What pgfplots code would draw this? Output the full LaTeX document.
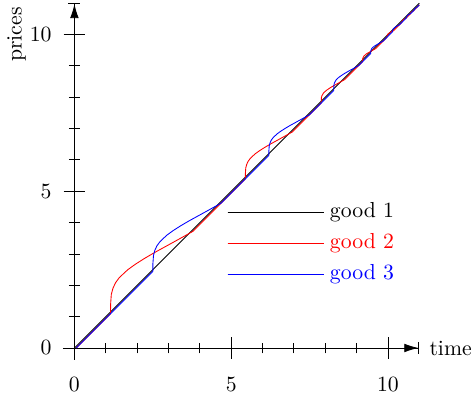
\documentclass[border=0pt]{standalone}
\usepackage{pgfplots}
\pgfplotsset{compat=1.18}
\usetikzlibrary{arrows.meta}

\begin{document}
\begin{tikzpicture}
\begin{axis}[
  x=0.507cm, y=0.507cm,
  axis lines=middle,
  xmin=-0.37, xmax=11, ymin=-0.37, ymax=11,
  axis line style={-{Latex[length=6.5pt,width=4pt]Bar[width=5.5pt]}},
  xtick={0,5,10}, ytick={0,5,10},
  minor xtick={1,2,3,4,6,7,8,9},
  minor ytick={1,2,3,4,6,7,8,9},
  tick align=center,
  major tick length=10pt,
  minor tick length=5pt,
  tick style={black, thin},
  hide obscured x ticks=false,
  hide obscured y ticks=false,
  xticklabel style={anchor=north, yshift=-5pt},
  yticklabel style={anchor=east, xshift=-2pt},
  xlabel={time}, ylabel={prices},
  xlabel style={at={(axis description cs:1,0.0325)}, anchor=west, inner sep=1.5pt, xshift=3pt},
  ylabel style={at={(axis description cs:-0.13,0.912)}, rotate=90, anchor=center},
  clip=false,
  legend style={draw=none, fill=none, at={(axis cs:4.65,4.92)}, anchor=north west,
    row sep=1.8pt, nodes={inner xsep=2.4pt}},
  legend cell align=left,
  legend image code/.code={\draw[#1] (0pt,0pt) -- (43pt,0pt); \path (0pt,0pt) -- (44.5pt,0pt);},
]
% good 1
\addplot[black, thin] coordinates {(0,0) (11,11)};
\addlegendentry{good 1}

% good 2
\addplot[red, thin] coordinates {
  (0.06,0)
  (1.150,1.090) (1.155,1.406) (1.176,1.708) (1.229,1.905) (1.308,2.076)
  (1.413,2.221) (1.545,2.352) (1.702,2.497) (1.939,2.668) (2.228,2.852)
  (2.518,3.023) (2.781,3.168) (3.044,3.312) (3.307,3.457) (3.543,3.589)
  (3.780,3.720)
  (5.450,5.390) (5.453,5.570) (5.465,5.743) (5.495,5.855) (5.540,5.953)
  (5.600,6.035) (5.675,6.110) (5.765,6.193) (5.900,6.290) (6.065,6.395)
  (6.230,6.493) (6.380,6.575) (6.530,6.658) (6.680,6.740) (6.815,6.815)
  (6.950,6.890)
  (7.870,7.810) (7.878,7.986) (7.893,8.043) (7.945,8.133) (8.028,8.211)
  (8.178,8.313) (8.335,8.403) (8.485,8.485) (8.620,8.560)
  (9.190,9.130) (9.194,9.229) (9.232,9.311) (9.316,9.382) (9.450,9.462)
  (9.610,9.550)
  (9.970,9.910) (9.972,9.962) (9.992,10.005) (10.036,10.042) (10.106,10.084)
  (10.190,10.130)
  (10.450,10.390) (10.451,10.421) (10.489,10.468) (10.580,10.520)
  (10.720,10.660) (10.721,10.679) (10.744,10.708) (10.800,10.740)
  (11,10.94)
};
\addlegendentry{\textcolor{red}{good 2}}

% good 3
\addplot[blue, thin] coordinates {
  (0.06,0)
  (2.500,2.440) (2.504,2.702) (2.522,2.952) (2.565,3.116) (2.631,3.258)
  (2.718,3.377) (2.827,3.486) (2.958,3.606) (3.154,3.748) (3.394,3.901)
  (3.634,4.042) (3.852,4.162) (4.070,4.282) (4.288,4.402) (4.484,4.511)
  (4.680,4.620)
  (6.200,6.140) (6.203,6.296) (6.213,6.446) (6.239,6.543) (6.278,6.628)
  (6.330,6.699) (6.395,6.764) (6.473,6.836) (6.590,6.920) (6.733,7.011)
  (6.876,7.096) (7.006,7.167) (7.136,7.239) (7.266,7.310) (7.383,7.375)
  (7.500,7.440)
  (8.270,8.210) (8.278,8.398) (8.294,8.458) (8.350,8.554) (8.438,8.638)
  (8.598,8.746) (8.766,8.842) (8.926,8.930) (9.070,9.010)
  (9.450,9.390) (9.454,9.484) (9.490,9.562) (9.570,9.630) (9.698,9.706)
  (9.850,9.790)
  (10.150,10.090) (10.152,10.142) (10.172,10.185) (10.216,10.222) (10.286,10.264)
  (10.370,10.310)
  (10.600,10.540) (10.601,10.571) (10.639,10.618) (10.730,10.670)
  (10.850,10.790) (10.851,10.806) (10.871,10.832) (10.920,10.860)
  (11,10.94)
};
\addlegendentry{\textcolor{blue}{good 3}}
\end{axis}
\end{tikzpicture}
\end{document}
